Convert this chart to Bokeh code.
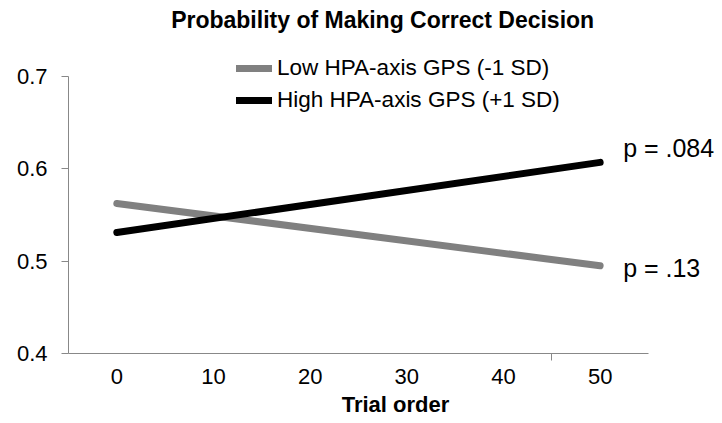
from bokeh.plotting import figure
from bokeh.models import Range1d, FixedTicker, Label, Legend, LegendItem
from bokeh.embed import file_html
from bokeh.resources import INLINE

# ---- data ----
trial = [0, 50]
low_gps = [0.5625, 0.495]
high_gps = [0.531, 0.607]
series_names = ["Low HPA-axis GPS (-1 SD)", "High HPA-axis GPS (+1 SD)"]
p_values = ["p = .13", "p = .084"]
x_ticks = [0, 10, 20, 30, 40, 50]
y_ticks = [0.4, 0.5, 0.6, 0.7]
title_text = "Probability of Making Correct Decision"
x_title = "Trial order"

FONT = "Liberation Sans"
AXIS_C = "#888888"

# frame spans the canvas above/right of the axes; axis bounds limit the axis lines
p = figure(width=722, height=423, output_backend="svg", toolbar_location=None,
           x_range=Range1d(-5, 62.66), y_range=Range1d(0.4, 0.7823),
           min_border_left=68, min_border_right=0, min_border_top=0, min_border_bottom=70)
p.outline_line_color = None
p.grid.grid_line_color = None
p.background_fill_color = "white"
p.border_fill_color = "white"

# axes
xa = p.xaxis[0]
xa.bounds = (-5, 55)
xa.ticker = FixedTicker(ticks=x_ticks, minor_ticks=[45])
xa.major_tick_out = 0
xa.major_tick_in = 0
xa.minor_tick_out = 7
xa.minor_tick_in = 0
xa.minor_tick_line_color = AXIS_C
xa.axis_line_color = AXIS_C
xa.major_label_standoff = 8
xa.major_label_text_font = FONT
xa.major_label_text_font_size = "22px"
xa.major_label_text_color = "black"
xa.axis_label = x_title
xa.axis_label_standoff = 5
xa.axis_label_text_font = FONT
xa.axis_label_text_font_size = "22px"
xa.axis_label_text_font_style = "bold"
xa.axis_label_text_color = "black"

ya = p.yaxis[0]
ya.bounds = (0.4, 0.7)
ya.ticker = FixedTicker(ticks=y_ticks, minor_ticks=[])
ya.major_tick_out = 7
ya.major_tick_in = 0
ya.major_tick_line_color = AXIS_C
ya.axis_line_color = AXIS_C
ya.minor_tick_line_color = None
ya.major_label_standoff = 14
ya.major_label_text_font = FONT
ya.major_label_text_font_size = "22px"
ya.major_label_text_color = "black"

# lines
r_low = p.line(trial, low_gps, line_color="#808080", line_width=7, line_cap="round")
r_high = p.line(trial, high_gps, line_color="black", line_width=7, line_cap="round")

legend = Legend(items=[LegendItem(label=series_names[0], renderers=[r_low]),
                       LegendItem(label=series_names[1], renderers=[r_high])],
                location=(168, 240), orientation="vertical",
                glyph_width=36, glyph_height=26, label_height=26, label_standoff=5,
                spacing=6, padding=0, margin=0,
                label_text_font=FONT, label_text_font_size="22.5px", label_text_color="black",
                border_line_alpha=0, background_fill_alpha=0)
p.add_layout(legend, "center")

# p-value annotations at line ends
p.add_layout(Label(x=trial[-1], y=low_gps[-1], text=p_values[0], x_offset=23, y_offset=-2,
                   text_baseline="middle", text_font=FONT, text_font_size="25px", text_color="black"))
p.add_layout(Label(x=trial[-1], y=high_gps[-1], text=p_values[1], x_offset=23, y_offset=14,
                   text_baseline="middle", text_font=FONT, text_font_size="25px", text_color="black"))

# chart title
p.add_layout(Label(x=27.5, y=0.7607, text=title_text, text_align="center", text_baseline="middle",
                   text_font=FONT, text_font_size="23px", text_font_style="bold", text_color="black"))

open("out.html", "w").write(file_html(p, INLINE))
